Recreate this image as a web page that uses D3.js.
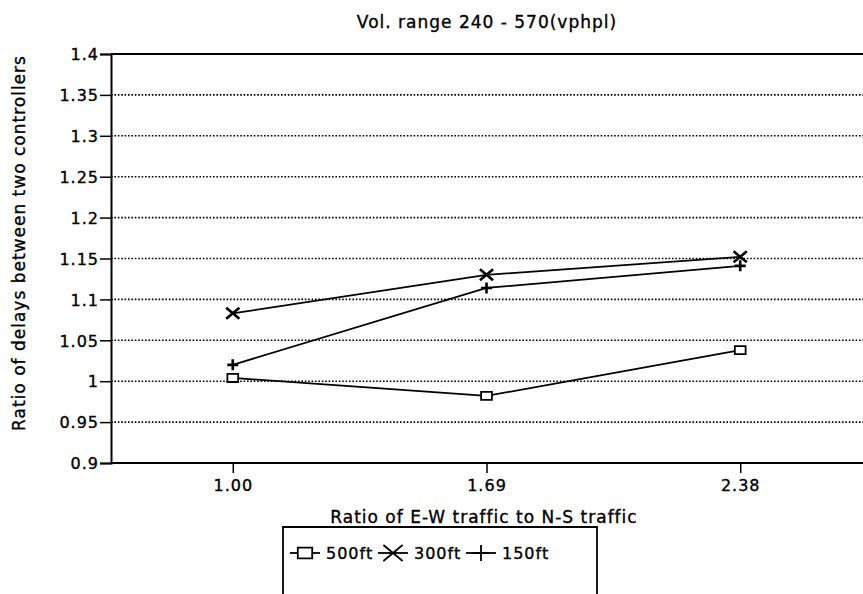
<!DOCTYPE html>
<html>
<head>
<meta charset="utf-8">
<script src="https://cdn.jsdelivr.net/npm/d3@7"></script>
<style>
  body { margin: 0; background: #fff; }
  svg { display: block; font-family: "DejaVu Sans", "Liberation Sans", Arial, sans-serif; }
  text { fill: #000; stroke: #000; stroke-width: 0.35px; letter-spacing: 1px; }
</style>
</head>
<body>
<div id="chart"></div>
<script>
const categories = ["1.00", "1.69", "2.38"];
const seriesNames = ["500ft", "300ft", "150ft"];
const values500 = [1.004, 0.982, 1.038];
const values300 = [1.083, 1.130, 1.152];
const values150 = [1.020, 1.114, 1.141];
const yTicks = [0.9, 0.95, 1, 1.05, 1.1, 1.15, 1.2, 1.25, 1.3, 1.35, 1.4];

const series = [
  { name: seriesNames[0], values: values500, marker: "square" },
  { name: seriesNames[1], values: values300, marker: "cross" },
  { name: seriesNames[2], values: values150, marker: "plus" },
];

const width = 863;
const height = 594;
const margin = { top: 54, right: 1, bottom: 131, left: 111 };

const svg = d3
  .select("#chart")
  .append("svg")
  .attr("width", width)
  .attr("height", height);

const x = d3
  .scalePoint()
  .domain(categories)
  .range([margin.left, width - margin.right])
  .padding(0.48);

const y = d3
  .scaleLinear()
  .domain([0.9, 1.4])
  .range([height - margin.bottom, margin.top]);

// dotted grid lines
svg
  .append("g")
  .selectAll("line")
  .data(yTicks.filter((d) => d > 0.9 && d < 1.4))
  .join("line")
  .attr("x1", margin.left)
  .attr("x2", width)
  .attr("y1", (d) => y(d))
  .attr("y2", (d) => y(d))
  .attr("stroke", "#000")
  .attr("stroke-width", 1.6)
  .attr("stroke-dasharray", "1.6,1.8");

// solid top frame line
svg
  .append("line")
  .attr("x1", margin.left)
  .attr("x2", width)
  .attr("y1", y(1.4))
  .attr("y2", y(1.4))
  .attr("stroke", "#000")
  .attr("stroke-width", 1.8);

const yAxis = svg
  .append("g")
  .attr("transform", `translate(${margin.left},0)`)
  .call(
    d3
      .axisLeft(y)
      .tickValues(yTicks)
      .tickFormat((d) => d3.format("")(+d.toFixed(2)))
      .tickSize(11)
      .tickPadding(1)
  );
yAxis.attr("font-size", 16).attr("font-family", null);
yAxis.select(".domain").attr("stroke-width", 2);
yAxis.selectAll(".tick line").attr("stroke-width", 1.5);
yAxis.selectAll(".tick text").attr("dy", "0.36em");

const xAxis = svg
  .append("g")
  .attr("transform", `translate(0,${y(0.9)})`)
  .call(d3.axisBottom(x).tickSize(10).tickPadding(7));
xAxis.attr("font-size", 16).attr("font-family", null);
xAxis
  .select(".domain")
  .attr("d", `M${margin.left},0H${width}`)
  .attr("stroke-width", 2);
xAxis.selectAll(".tick line").attr("stroke-width", 1.5);

// lines
const line = d3
  .line()
  .x((d, i) => x(categories[i]))
  .y((d) => y(d));

const markerPath = (type, s) => {
  if (type === "square") {
    return `M${-s * 0.6},${-s * 0.45}h${s * 1.2}v${s * 0.9}h${-s * 1.2}Z`;
  }
  if (type === "cross") {
    return `M${-s * 0.6},${-s * 0.5}L${s * 0.6},${s * 0.5}M${-s * 0.6},${s * 0.5}L${s * 0.6},${-s * 0.5}`;
  }
  return `M${-s * 0.5},0H${s * 0.5}M0,${-s * 0.5}V${s * 0.5}`;
};

const gSeries = svg.append("g");
series.forEach((s) => {
  gSeries
    .append("path")
    .datum(s.values)
    .attr("d", line)
    .attr("fill", "none")
    .attr("stroke", "#000")
    .attr("stroke-width", 1.8);
  gSeries
    .selectAll(null)
    .data(s.values)
    .join("path")
    .attr("transform", (d, i) => `translate(${x(categories[i])},${y(d)})`)
    .attr("d", markerPath(s.marker, s.marker === "square" ? 9 : 11))
    .attr("fill", s.marker === "square" ? "#fff" : "none")
    .attr("stroke", "#000")
    .attr("stroke-width", s.marker === "square" ? 1.8 : 2.6);
});

// titles
svg
  .append("text")
  .attr("x", 487)
  .attr("y", 28)
  .attr("text-anchor", "middle")
  .attr("font-size", 17)
  .text("Vol. range 240 - 570(vphpl)");

svg
  .append("text")
  .attr("x", 484)
  .attr("y", 523)
  .attr("text-anchor", "middle")
  .attr("font-size", 17)
  .text("Ratio of E-W traffic to N-S traffic");

svg
  .append("text")
  .attr("transform", "translate(25,243) rotate(-90)")
  .attr("text-anchor", "middle")
  .attr("font-size", 17)
  .text("Ratio of delays between two controllers");

// legend
const legend = svg.append("g");
legend
  .append("path")
  .attr("d", "M283,600V527H597V600")
  .attr("fill", "none")
  .attr("stroke", "#000")
  .attr("stroke-width", 1.8);

const legendX = [290, 378, 466];
series.forEach((s, i) => {
  const g = legend.append("g").attr("transform", `translate(${legendX[i]},553)`);
  g.append("line")
    .attr("x1", 0)
    .attr("x2", 30)
    .attr("stroke", "#000")
    .attr("stroke-width", 1.8);
  g.append("path")
    .attr("transform", "translate(15,0)")
    .attr("d", markerPath(s.marker, s.marker === "square" ? 12 : 16))
    .attr("fill", s.marker === "square" ? "#fff" : "none")
    .attr("stroke", "#000")
    .attr("stroke-width", 1.8);
  g.append("text")
    .attr("x", 36)
    .attr("y", 6)
    .attr("font-size", 16)
    .text(s.name);
});
</script>
</body>
</html>
